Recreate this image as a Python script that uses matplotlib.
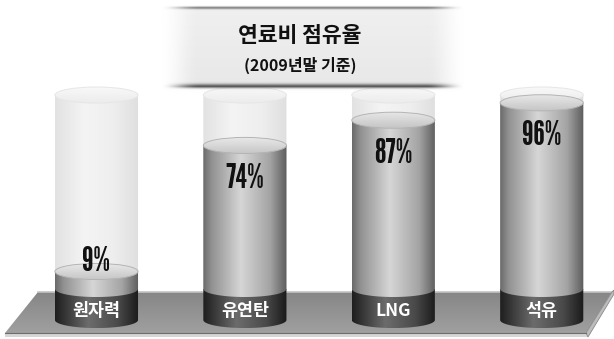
import numpy as np
import matplotlib
matplotlib.use('Agg')
import matplotlib.pyplot as plt
from matplotlib.colors import LinearSegmentedColormap
from matplotlib.patches import Polygon, Ellipse, PathPatch
from matplotlib.path import Path

# data
categories = ['원자력', '유연탄', 'LNG', '석유']
shares = [9, 74, 87, 96]
value_labels = ['9%', '74%', '87%', '96%']
title = '연료비 점유율'
subtitle = '(2009년말 기준)'

W, H = 614, 339
fig = plt.figure(figsize=(W / 100, H / 100), dpi=100)
fig.patch.set_facecolor('white')

NUM_FONT = ['League Gothic', 'Liberation Sans Narrow', 'DejaVu Sans']
KR_FONT = ['Noto Sans CJK KR', 'DejaVu Sans']

# background layer in pixel coords (platform)
ax_bg = fig.add_axes([0, 0, 1, 1])
ax_bg.axis('off')

# data layer (cylinders)
ax = fig.add_axes([0, 0, 1, 1])
ax.axis('off')

# top layer (title banner)
ax_top = fig.add_axes([0, 0, 1, 1])
ax_top.axis('off')

bar_w = 0.56
ell_h = 8.3
band_h = 16

fill_cmap = LinearSegmentedColormap.from_list(
    'fill', [(0, '#6a6a6a'), (0.1, '#919191'), (0.45, '#d6d6d6'), (0.8, '#a4a4a4'), (1, '#5c5c5c')])
ghost_cmap = LinearSegmentedColormap.from_list(
    'ghost', [(0, '#e2e2e2'), (0.35, '#f4f4f4'), (0.7, '#eeeeee'), (1, '#dfdfdf')])
band_cmap = LinearSegmentedColormap.from_list(
    'band', [(0, '#1e1e1e'), (0.4, '#6c6c6c'), (0.75, '#4a4a4a'), (1, '#1a1a1a')])
top_cmap = LinearSegmentedColormap.from_list('top', ['#c6c6c6', '#e8e8e8'])
ghost_top_cmap = LinearSegmentedColormap.from_list('gtop', ['#ececec', '#f9f9f9'])


def gradient_image(axes, cmap, extent, clip, z, vertical=False):
    g = np.linspace(0, 1, 256)
    g = g.reshape(-1, 1) if vertical else g.reshape(1, -1)
    im = axes.imshow(g, cmap=cmap, extent=extent, aspect='auto', origin='lower',
                     interpolation='bilinear', zorder=z)
    im.set_clip_path(clip)
    return im


def draw_body(xc, y0, y1, cmap, z):
    t = np.linspace(np.pi, 2 * np.pi, 60)
    ex = xc + bar_w / 2 * np.cos(t)
    ey = y0 + ell_h / 2 * np.sin(t)
    verts = [(xc - bar_w / 2, y1)] + list(zip(ex, ey)) + [(xc + bar_w / 2, y1), (xc - bar_w / 2, y1)]
    patch = PathPatch(Path(verts, closed=True), facecolor='none', edgecolor='none')
    ax.add_patch(patch)
    gradient_image(ax, cmap, (xc - bar_w / 2, xc + bar_w / 2, y0 - ell_h / 2, y1), patch, z)


def draw_top(xc, y, cmap, edge, z):
    e = Ellipse((xc, y), bar_w, ell_h, facecolor='none', edgecolor='none')
    ax.add_patch(e)
    gradient_image(ax, cmap, (xc - bar_w / 2, xc + bar_w / 2, y - ell_h / 2, y + ell_h / 2), e, z,
                   vertical=True)
    ax.add_patch(Ellipse((xc, y), bar_w, ell_h, facecolor='none', edgecolor=edge, lw=0.7, zorder=z + 0.1))


# platform
plat = Polygon([(38, 292), (612, 292), (586, 333), (5, 333)], closed=True,
               facecolor='none', edgecolor='none')
ax_bg.add_patch(plat)
gradient_image(ax_bg, LinearSegmentedColormap.from_list('plat', ['#a0a0a0', '#868686']),
               (0, W, 333, 292), plat, 1, vertical=True)
ax_bg.plot([38, 612], [292, 292], color='#c4c4c4', lw=1.2, zorder=2)
ax_bg.add_patch(Polygon([(5, 333), (586, 333), (588, 337), (5, 337)], closed=True,
                        facecolor='#d6d6d6', edgecolor='none', zorder=2))
ax_bg.plot([5, 586], [333, 333], color='#6e6e6e', lw=0.8, zorder=3)
ax_bg.add_patch(Polygon([(612, 292), (614, 290), (614, 294), (588, 337), (586, 333)], closed=True,
                        facecolor='#bdbdbd', edgecolor='#8a8a8a', lw=0.6, zorder=2))
ax_bg.set_xlim(0, W)
ax_bg.set_ylim(H, 0)

# cylinders
for i, (cat, v, lab) in enumerate(zip(categories, shares, value_labels)):
    draw_body(i, 0, 100, ghost_cmap, 1)
    draw_top(i, 100, ghost_top_cmap, '#e6e6e6', 1.5)
    draw_body(i, -band_h, 0, band_cmap, 2)
    draw_body(i, 0, v, fill_cmap, 3)
    draw_top(i, v, top_cmap, '#b4b4b4', 4)
    ty = v + 5 if v < 20 else v - 17
    ax.text(i, ty, lab, ha='center', va='center', fontsize=24,
            family=NUM_FONT, color='#111111', zorder=6)
    ax.text(i, -11.3, cat, ha='center', va='center', fontsize=12.5, fontweight='heavy',
            family=KR_FONT, color='white', zorder=6)

ax.set_xlim(-0.650, 3.487)
ax.set_ylim(-25.8, 149.0)

# banner
bx = np.arange(160, 466)
by = np.arange(0, 96)
X, Y = np.meshgrid(bx, by)
edge = np.minimum(X - 160, 465 - X)
w = np.clip(edge / 40.0, 0, 1)
w = w * w * (3 - 2 * w)
inside = ((Y > 7) & (Y < 87)).astype(float)
top_line = np.exp(-((Y - 7) / 1.6) ** 2)
bot_line = np.exp(-((Y - 86) / 2.6) ** 2)
dark = inside * (0.06 + 0.03 * (Y - 7) / 80) + 0.45 * top_line + 0.55 * bot_line
gray = 1 - dark
rgba = np.zeros(X.shape + (4,))
rgba[..., 0] = gray
rgba[..., 1] = gray
rgba[..., 2] = gray
rgba[..., 3] = w * np.clip(inside + top_line + bot_line, 0, 1)
ax_top.imshow(rgba, extent=(160, 466, 96, 0), aspect='auto', interpolation='bilinear', zorder=1)
ax_top.set_xlim(0, W)
ax_top.set_ylim(H, 0)

ax_top.text(300, 35, title, ha='center', va='center', fontsize=15.5, fontweight='heavy',
            family=KR_FONT, color='#111111', zorder=3)
ax_top.text(300, 65, subtitle, ha='center', va='center', fontsize=11.5, fontweight='bold',
            family=KR_FONT, color='#111111', zorder=3)

fig.savefig('out.png', dpi=100, facecolor='white')
